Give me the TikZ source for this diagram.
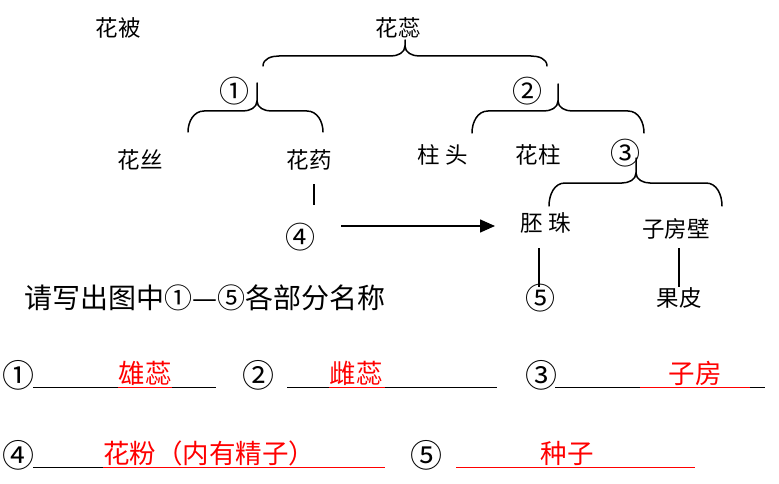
\documentclass[tikz,border=0pt]{standalone}
\usepackage{fontspec}
\setmainfont{Noto Sans CJK SC}
\usetikzlibrary{arrows.meta}
\newcommand{\mybrace}[6]{% L, R, tip x, horizontal y, top y, bottom y
  \draw[brc] (#1,#6) to[out=90,in=180] (#1+16,#4) -- (#3-14,#4) to[out=0,in=-90] (#3,#4-10) -- (#3,#5);
  \draw[brc] (#2,#6) to[out=90,in=0] (#2-16,#4) -- (#3+14,#4) to[out=180,in=-90] (#3,#4-10);
}
\begin{document}
\begin{tikzpicture}[x=1pt,y=-1pt,
  lbl/.style={inner sep=0pt,font=\fontsize{22.5}{22.5}\selectfont},
  cnum/.style={inner sep=0pt,font=\fontsize{30}{30}\selectfont},
  big/.style={inner sep=0pt,font=\fontsize{28}{28}\selectfont},
  ans/.style={inner sep=0pt,text=red,font=\fontsize{26.5}{26.5}\selectfont},
  anum/.style={inner sep=0pt,font=\fontsize{32}{32}\selectfont},
  brc/.style={line width=1.5pt,line cap=round},
  stem/.style={line width=1.5pt},
  uline/.style={line width=1pt},
  rline/.style={line width=1pt,red}]
\useasboundingbox (0,0) rectangle (779,484);
% top labels
\node[lbl] (huabei) at (118,28) {花被};
\node[lbl] (huarui) at (398,28) {花蕊};
\node[cnum] (c1) at (234,91) {①};
\node[cnum] (c2) at (527,91) {②};
\node[lbl] (huasi) at (140,160) {花丝};
\node[lbl] (huayao) at (309,160) {花药};
\node[lbl] (zhutou) at (443,155) {柱 头};
\node[lbl] (huazhu) at (538,155) {花柱};
\node[cnum] (c3) at (625,153) {③};
\node[lbl] (peizhu) at (546,223) {胚 珠};
\node[lbl] (zfb) at (676,229) {子房壁};
\node[cnum] (c4) at (300,237) {④};
\node[cnum] (c5) at (540,298) {⑤};
\node[lbl] (guopi) at (679,298) {果皮};
\node[big,anchor=west] (q) at (24,298) {请写出图中①—⑤各部分名称};
% braces
\mybrace{263}{547}{405}{56}{40}{66}
\mybrace{188}{323}{257}{111}{83}{132}
\mybrace{472}{644}{558}{111}{84}{133}
\mybrace{549}{722}{636}{183}{158}{206}
% stems
\coordinate (s1a) at (314,184); \coordinate (s1b) at (314,205);
\draw[stem] (s1a) -- (s1b);
\coordinate (s2a) at (539,248); \coordinate (s2b) at (539,287);
\draw[stem] (s2a) -- (s2b);
\coordinate (s3a) at (679,248); \coordinate (s3b) at (679,287);
\draw[stem] (s3a) -- (s3b);
% arrow
\coordinate (arA) at (341,226); \coordinate (arB) at (495,226);
\draw[stem,-{Triangle[length=15pt,width=13pt]}] (arA) -- (arB);
% answer row 1
\node[anum] (a1) at (18,375) {①};
\draw[uline] (33,387) -- (216,387);
\draw[rline] (118,387) -- (172,387);
\node[ans] (t1) at (145,373) {雄蕊};
\node[anum] (a2) at (258,375) {②};
\draw[uline] (287,387) -- (497,387);
\draw[rline] (329,387) -- (385,387);
\node[ans] (t2) at (356,373) {雌蕊};
\node[anum] (a3) at (541,375) {③};
\draw[uline] (555,387) -- (765,387);
\draw[rline] (640,387) -- (750,387);
\node[ans] (t3) at (695,373) {子房};
% answer row 2
\node[anum] (a4) at (18,455) {④};
\draw[uline] (33,467) -- (103,467);
\draw[rline] (103,467) -- (385,467);
\node[ans] (t4) at (209,453) {花粉（内有精子）};
\node[anum] (a5) at (426,455) {⑤};
\draw[rline] (456,467) -- (695,467);
\node[ans] (t5) at (567,453) {种子};
\end{tikzpicture}
\end{document}
